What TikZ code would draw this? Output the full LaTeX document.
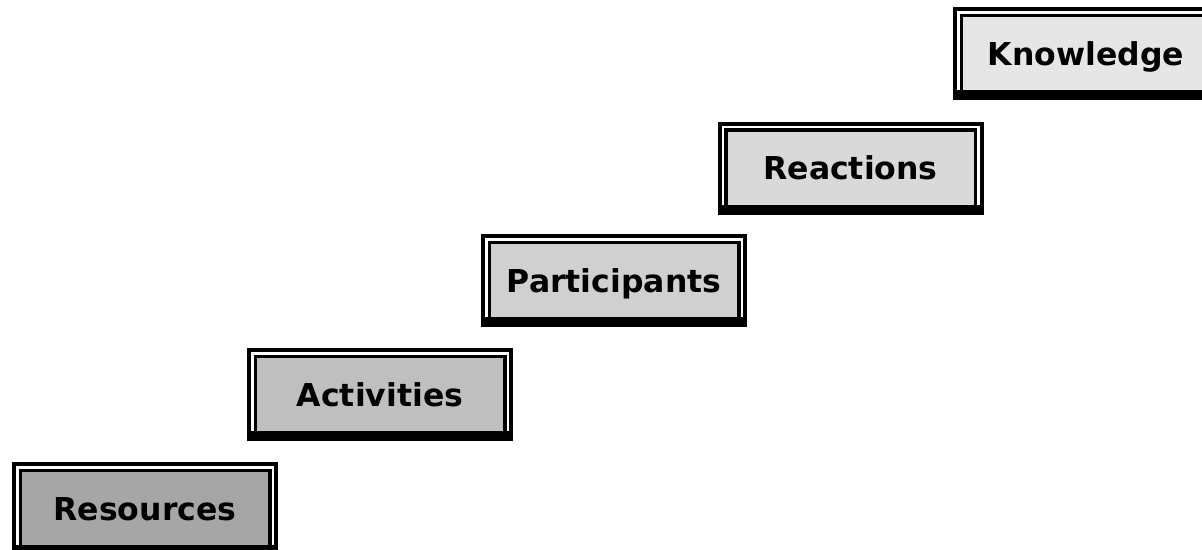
\documentclass[tikz,border=0pt]{standalone}
\usepackage{fontspec}
\setmainfont{DejaVu Sans}
\usetikzlibrary{calc}
\tikzset{
  stepbox/.style={draw=black, line width=3.5pt, outer sep=0pt, inner sep=0pt,
    minimum width=249.5pt, minimum height=76.5pt,
    text height=26pt, text depth=3pt,
    font=\fontsize{31.5}{36}\selectfont\bfseries, text=black}
}
\definecolor{g1}{HTML}{A6A6A6}
\definecolor{g2}{HTML}{BFBFBF}
\definecolor{g3}{HTML}{D0D0D0}
\definecolor{g4}{HTML}{D9D9D9}
\definecolor{g5}{HTML}{E6E6E6}
\newcommand{\frameit}[1]{%
  \draw[line width=4pt] ($(#1.north west)+(-6.25,-6.25)$) rectangle ($(#1.south east)+(6.25,6.25)$);
  \fill ($(#1.south west)+(-8.25,-1.75)$) rectangle ($(#1.south east)+(8.25,8.25)$);
}
\begin{document}
\begin{tikzpicture}[x=1pt,y=-1pt]
\useasboundingbox (0,0) rectangle (1202,549);
\node[stepbox, fill=g1] (res) at (145,508.5) {Resources};
\node[stepbox, fill=g2] (act) at (380,394.5) {Activities};
\node[stepbox, fill=g3] (par) at (614,280.5) {Participants};
\node[stepbox, fill=g4] (rea) at (850.5,168) {Reactions};
\node[stepbox, fill=g5] (kno) at (1086,53.5) {Knowledge};
\frameit{res}
\frameit{act}
\frameit{par}
\frameit{rea}
\frameit{kno}
\end{tikzpicture}
\end{document}
